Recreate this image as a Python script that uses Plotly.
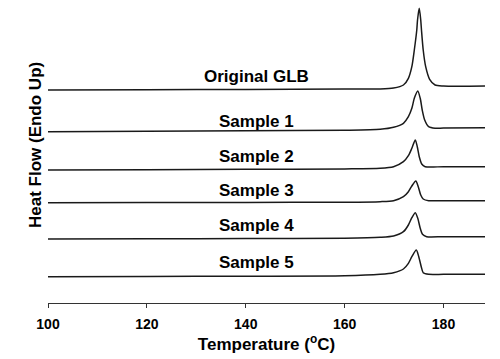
import plotly.graph_objects as go

# Temperature (°C) / heat flow (arbitrary units, stacked)
t_orig = [100, 120, 140, 160, 167.2, 169.9, 171.9, 172.9, 173.6, 174.1, 174.6, 174.75, 175.1, 175.4, 175.55, 175.9, 176.4, 177.2, 178.3, 180, 188.4]
hf_orig = [21.30, 21.33, 21.36, 21.39, 21.41, 21.50, 21.80, 22.47, 23.63, 25.30, 27.30, 28.30, 29.47, 28.30, 27.30, 25.30, 23.63, 22.37, 21.80, 21.70, 21.70]

t_s1 = [100, 120, 140, 160, 167.2, 169.9, 171.9, 172.9, 173.6, 174.1, 174.8, 175.3, 175.7, 176.2, 177.0, 178.3, 180, 188.4]
hf_s1 = [17.13, 17.17, 17.22, 17.28, 17.37, 17.57, 17.97, 18.63, 19.47, 20.47, 21.20, 20.47, 19.30, 18.30, 17.63, 17.47, 17.50, 17.53]

t_s2 = [100, 120, 140, 160, 167.2, 169.9, 171.9, 172.9, 173.6, 174.3, 174.7, 175.1, 175.6, 176.3, 180, 188.4]
hf_s2 = [13.30, 13.33, 13.37, 13.41, 13.47, 13.63, 14.13, 14.73, 15.47, 16.30, 15.63, 14.63, 13.90, 13.63, 13.63, 13.63]

t_s3 = [100, 120, 140, 160, 167.2, 169.9, 171.9, 172.9, 173.6, 174.4, 174.9, 175.4, 175.9, 177.0, 180, 188.4]
hf_s3 = [10.03, 10.04, 10.06, 10.08, 10.13, 10.23, 10.63, 11.13, 11.70, 12.20, 11.63, 10.80, 10.40, 10.23, 10.23, 10.23]

t_s4 = [100, 120, 140, 160, 167.2, 169.9, 171.9, 172.9, 173.6, 174.3, 174.8, 175.3, 175.75, 176.6, 180, 188.4]
hf_s4 = [6.40, 6.42, 6.45, 6.48, 6.57, 6.70, 7.13, 7.80, 8.53, 9.03, 8.47, 7.47, 6.87, 6.63, 6.63, 6.63]

t_s5 = [100, 120, 140, 160, 167.2, 169.9, 171.9, 172.9, 173.6, 174.5, 175.0, 175.5, 175.9, 177.0, 180, 188.4]
hf_s5 = [2.63, 2.65, 2.68, 2.72, 2.87, 3.03, 3.40, 3.97, 4.63, 5.30, 4.63, 3.63, 3.03, 2.87, 2.87, 2.87]

labels = ["Original GLB", "Sample 1", "Sample 2", "Sample 3", "Sample 4", "Sample 5"]
label_x = 142.1
label_y = [22.7, 18.2, 14.63, 11.3, 7.73, 4.1]

x_ticks = [100, 120, 140, 160, 180]

series = [(t_orig, hf_orig), (t_s1, hf_s1), (t_s2, hf_s2), (t_s3, hf_s3), (t_s4, hf_s4), (t_s5, hf_s5)]

FONT = "Liberation Sans, Arial, sans-serif"

fig = go.Figure()
for (t, hf), name in zip(series, labels):
    fig.add_trace(go.Scatter(x=t, y=hf, mode="lines", name=name,
                             line=dict(color="#1a1a1a", width=1.5, shape="spline", smoothing=0.7),
                             showlegend=False, hoverinfo="skip"))

for name, ly in zip(labels, label_y):
    fig.add_annotation(x=label_x, y=ly, xref="x", yref="y", text=name,
                       showarrow=False, xanchor="center", yanchor="middle",
                       font=dict(family=FONT, size=17, color="#000", weight="bold"))

fig.add_annotation(x=-0.03, y=0.521, xref="paper", yref="paper",
                   text="Heat Flow (Endo Up)", textangle=-90, showarrow=False,
                   xanchor="center", yanchor="middle",
                   font=dict(family=FONT, size=17, color="#000", weight="bold"))

fig.update_layout(
    width=500, height=359,
    margin=dict(l=48, r=15, t=0, b=56),
    paper_bgcolor="white", plot_bgcolor="white",
    font=dict(family=FONT, color="#000"),
    xaxis=dict(range=[100, 188.4], tickvals=x_ticks, ticks="outside", ticklen=4,
               tickwidth=1, tickcolor="#333", showline=True, linecolor="#333", linewidth=1.2,
               showgrid=False, zeroline=False, ticklabelstandoff=4,
               tickfont=dict(family=FONT, size=14, color="#000", weight="bold"),
               title=dict(text="Temperature (<sup>o</sup>C)", standoff=4,
                          font=dict(family=FONT, size=17, color="#000", weight="bold"))),
    yaxis=dict(range=[0, 30.3], visible=False),
)

fig.write_html("out.html", config={"displayModeBar": False},
               post_script="document.body.style.margin='0';")
